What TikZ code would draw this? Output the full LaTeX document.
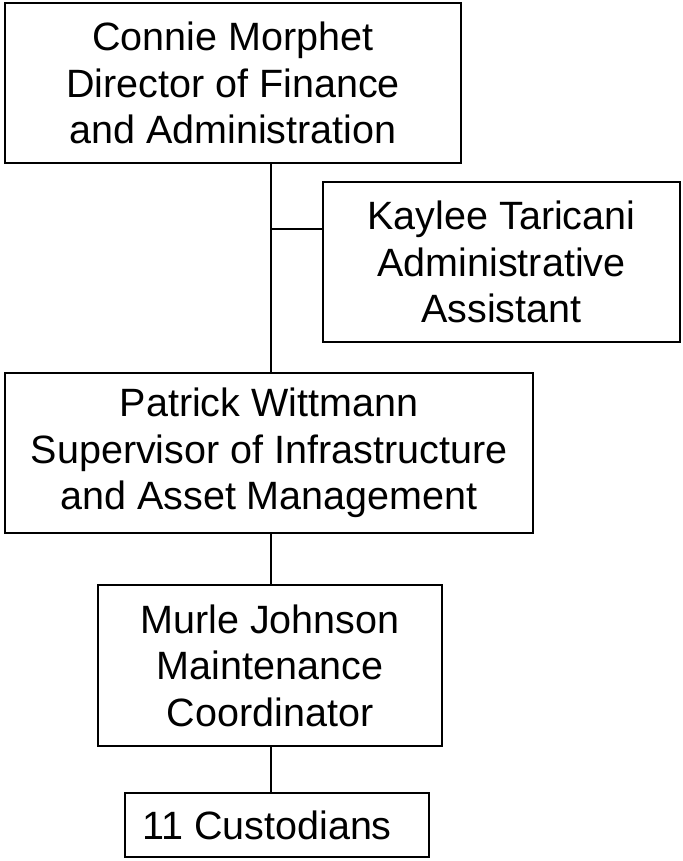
\documentclass[tikz,border=0pt]{standalone}
\usepackage{fontspec}
\setmainfont{Liberation Sans}
\begin{document}
\begin{tikzpicture}[x=1pt,y=-1pt,
  box/.style={draw, line width=1.5pt, rectangle, inner sep=0pt, align=center,
    font=\fontsize{39.5}{46.5}\selectfont},
  conn/.style={line width=1.8pt}]
\useasboundingbox (0,0) rectangle (682,861);
\node[box, minimum width=456pt, minimum height=160pt] (connie) at (233,83)
  {Connie Morphet\\Director of Finance\\and Administration};
\node[box, minimum width=357pt, minimum height=160pt] (kaylee) at (501.5,262)
  {Kaylee Taricani\\Administrative\\Assistant};
\node[box, minimum width=528pt, minimum height=160pt] (patrick) at (269,453)
  {Patrick Wittmann\\Supervisor of Infrastructure\\and Asset Management};
\node[box, minimum width=344pt, minimum height=161pt] (murle) at (270,665.5)
  {Murle Johnson\\Maintenance\\Coordinator};
\node[box, minimum width=304pt, minimum height=64pt] (cust) at (277,825)
  {11 Custodians\hspace*{20pt}};
\coordinate (top) at (271,163);
\coordinate (junc) at (271,229);
\draw[conn] (top) -- (top |- patrick.north);
\draw[conn] (junc) -- (junc -| kaylee.west);
\coordinate (mid) at (271,533);
\draw[conn] (mid) -- (mid |- murle.north);
\coordinate (low) at (271,746);
\draw[conn] (low) -- (low |- cust.north);
\end{tikzpicture}
\end{document}
